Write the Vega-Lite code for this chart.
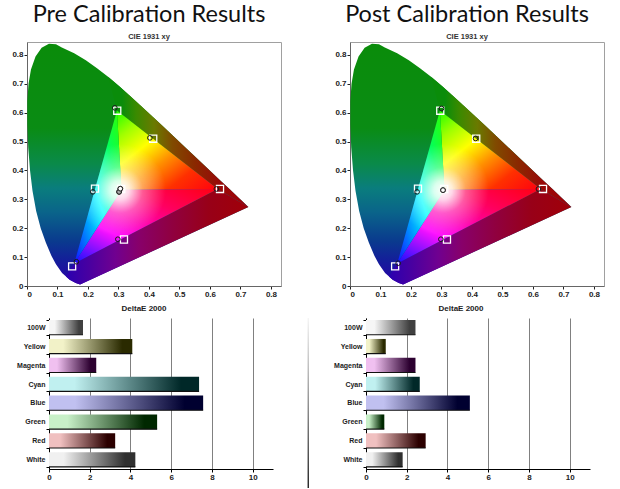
{
  "$schema": "https://vega.github.io/schema/vega-lite/v6.json",
  "background": "white",
  "padding": {"left": 11, "top": 2, "right": 5, "bottom": 0},
  "spacing": 6,
  "config": {
    "font": "Liberation Sans",
    "view": {"stroke": "#a0a0a0", "strokeWidth": 1},
    "axis": {"labelFont": "Liberation Sans", "labelFontSize": 8, "labelFontWeight": "bold", "labelColor": "#222222", "tickColor": "#222222", "tickSize": 3, "labelPadding": 1, "domainColor": "#666666"}
  },
  "datasets": {
    "shapes": [
      {"s": "locus", "i": 1, "x": 0.1741, "y": 0.005},
      {"s": "locus", "i": 2, "x": 0.16, "y": 0.01},
      {"s": "locus", "i": 3, "x": 0.14, "y": 0.022},
      {"s": "locus", "i": 4, "x": 0.115, "y": 0.045},
      {"s": "locus", "i": 5, "x": 0.095, "y": 0.075},
      {"s": "locus", "i": 6, "x": 0.08, "y": 0.105},
      {"s": "locus", "i": 7, "x": 0.062, "y": 0.15},
      {"s": "locus", "i": 8, "x": 0.045, "y": 0.2},
      {"s": "locus", "i": 9, "x": 0.03, "y": 0.26},
      {"s": "locus", "i": 10, "x": 0.018, "y": 0.33},
      {"s": "locus", "i": 11, "x": 0.01, "y": 0.4},
      {"s": "locus", "i": 12, "x": 0.004, "y": 0.48},
      {"s": "locus", "i": 13, "x": 0.001, "y": 0.56},
      {"s": "locus", "i": 14, "x": 0.001, "y": 0.64},
      {"s": "locus", "i": 15, "x": 0.005, "y": 0.7},
      {"s": "locus", "i": 16, "x": 0.013, "y": 0.75},
      {"s": "locus", "i": 17, "x": 0.028, "y": 0.795},
      {"s": "locus", "i": 18, "x": 0.048, "y": 0.825},
      {"s": "locus", "i": 19, "x": 0.072, "y": 0.839},
      {"s": "locus", "i": 20, "x": 0.095, "y": 0.837},
      {"s": "locus", "i": 21, "x": 0.1142, "y": 0.8262},
      {"s": "locus", "i": 22, "x": 0.1547, "y": 0.8059},
      {"s": "locus", "i": 23, "x": 0.1929, "y": 0.7816},
      {"s": "locus", "i": 24, "x": 0.2296, "y": 0.7543},
      {"s": "locus", "i": 25, "x": 0.2658, "y": 0.7243},
      {"s": "locus", "i": 26, "x": 0.3016, "y": 0.6923},
      {"s": "locus", "i": 27, "x": 0.3373, "y": 0.6589},
      {"s": "locus", "i": 28, "x": 0.3731, "y": 0.6245},
      {"s": "locus", "i": 29, "x": 0.4087, "y": 0.5896},
      {"s": "locus", "i": 30, "x": 0.4441, "y": 0.5547},
      {"s": "locus", "i": 31, "x": 0.4788, "y": 0.5202},
      {"s": "locus", "i": 32, "x": 0.5125, "y": 0.4866},
      {"s": "locus", "i": 33, "x": 0.5448, "y": 0.4544},
      {"s": "locus", "i": 34, "x": 0.5752, "y": 0.4242},
      {"s": "locus", "i": 35, "x": 0.6029, "y": 0.3965},
      {"s": "locus", "i": 36, "x": 0.627, "y": 0.3725},
      {"s": "locus", "i": 37, "x": 0.6658, "y": 0.334},
      {"s": "locus", "i": 38, "x": 0.6915, "y": 0.3083},
      {"s": "locus", "i": 39, "x": 0.7079, "y": 0.292},
      {"s": "locus", "i": 40, "x": 0.719, "y": 0.2809},
      {"s": "locus", "i": 41, "x": 0.726, "y": 0.274},
      {"s": "right", "i": 1, "x": 0.295, "y": 0.608},
      {"s": "right", "i": 2, "x": 0.2658, "y": 0.7243},
      {"s": "right", "i": 3, "x": 0.3016, "y": 0.6923},
      {"s": "right", "i": 4, "x": 0.3373, "y": 0.6589},
      {"s": "right", "i": 5, "x": 0.3731, "y": 0.6245},
      {"s": "right", "i": 6, "x": 0.4087, "y": 0.5896},
      {"s": "right", "i": 7, "x": 0.4441, "y": 0.5547},
      {"s": "right", "i": 8, "x": 0.4788, "y": 0.5202},
      {"s": "right", "i": 9, "x": 0.5125, "y": 0.4866},
      {"s": "right", "i": 10, "x": 0.5448, "y": 0.4544},
      {"s": "right", "i": 11, "x": 0.5752, "y": 0.4242},
      {"s": "right", "i": 12, "x": 0.6029, "y": 0.3965},
      {"s": "right", "i": 13, "x": 0.627, "y": 0.3725},
      {"s": "right", "i": 14, "x": 0.6658, "y": 0.334},
      {"s": "right", "i": 15, "x": 0.6915, "y": 0.3083},
      {"s": "right", "i": 16, "x": 0.7079, "y": 0.292},
      {"s": "right", "i": 17, "x": 0.719, "y": 0.2809},
      {"s": "right", "i": 18, "x": 0.726, "y": 0.274},
      {"s": "right", "i": 19, "x": 0.625, "y": 0.336},
      {"s": "bottom", "i": 1, "x": 0.155, "y": 0.078},
      {"s": "bottom", "i": 2, "x": 0.128, "y": 0.033},
      {"s": "bottom", "i": 3, "x": 0.14, "y": 0.022},
      {"s": "bottom", "i": 4, "x": 0.16, "y": 0.01},
      {"s": "bottom", "i": 5, "x": 0.1741, "y": 0.005},
      {"s": "bottom", "i": 6, "x": 0.726, "y": 0.274},
      {"s": "bottom", "i": 7, "x": 0.625, "y": 0.336},
      {"s": "tGR", "i": 1, "x": 0.31, "y": 0.333},
      {"s": "tGR", "i": 2, "x": 0.295, "y": 0.608},
      {"s": "tGR", "i": 3, "x": 0.625, "y": 0.336},
      {"s": "tRB", "i": 1, "x": 0.31, "y": 0.333},
      {"s": "tRB", "i": 2, "x": 0.625, "y": 0.336},
      {"s": "tRB", "i": 3, "x": 0.155, "y": 0.078},
      {"s": "tBG", "i": 1, "x": 0.31, "y": 0.333},
      {"s": "tBG", "i": 2, "x": 0.155, "y": 0.078},
      {"s": "tBG", "i": 3, "x": 0.295, "y": 0.608},
      {"s": "tri", "i": 1, "x": 0.295, "y": 0.608},
      {"s": "tri", "i": 2, "x": 0.625, "y": 0.336},
      {"s": "tri", "i": 3, "x": 0.155, "y": 0.078}
    ],
    "targets": [
      {"n": "Green", "x": 0.296, "y": 0.607},
      {"n": "Yellow", "x": 0.414, "y": 0.51},
      {"n": "Red", "x": 0.633, "y": 0.336},
      {"n": "Cyan", "x": 0.223, "y": 0.337},
      {"n": "White", "x": 0.309, "y": 0.336},
      {"n": "Magenta", "x": 0.318, "y": 0.161},
      {"n": "Blue", "x": 0.148, "y": 0.068}
    ],
    "prePts": [
      {"n": "Green", "x": 0.288, "y": 0.617},
      {"n": "Yellow", "x": 0.403, "y": 0.513},
      {"n": "Red", "x": 0.621, "y": 0.336},
      {"n": "Cyan", "x": 0.216, "y": 0.326},
      {"n": "White2", "x": 0.302, "y": 0.326},
      {"n": "White", "x": 0.306, "y": 0.337},
      {"n": "Magenta", "x": 0.298, "y": 0.162},
      {"n": "Blue", "x": 0.162, "y": 0.084}
    ],
    "postPts": [
      {"n": "Green", "x": 0.3, "y": 0.615},
      {"n": "Yellow", "x": 0.412, "y": 0.511},
      {"n": "Red", "x": 0.618, "y": 0.336},
      {"n": "Cyan", "x": 0.22, "y": 0.326},
      {"n": "White", "x": 0.305, "y": 0.332},
      {"n": "Magenta", "x": 0.298, "y": 0.162},
      {"n": "Blue", "x": 0.158, "y": 0.079}
    ],
    "preBars": [
      {"cat": "100W", "v": 1.67},
      {"cat": "Yellow", "v": 4.09},
      {"cat": "Magenta", "v": 2.32},
      {"cat": "Cyan", "v": 7.37},
      {"cat": "Blue", "v": 7.57},
      {"cat": "Green", "v": 5.31},
      {"cat": "Red", "v": 3.25},
      {"cat": "White", "v": 4.24}
    ],
    "postBars": [
      {"cat": "100W", "v": 2.43},
      {"cat": "Yellow", "v": 0.97},
      {"cat": "Magenta", "v": 2.43},
      {"cat": "Cyan", "v": 2.64},
      {"cat": "Blue", "v": 5.1},
      {"cat": "Green", "v": 0.9},
      {"cat": "Red", "v": 2.93},
      {"cat": "White", "v": 1.8}
    ]
  },
  "vconcat": [
    {
      "spacing": 52,
      "hconcat": [
        {
          "width": 254, "height": 244,
          "title": {"text": "Pre Calibration Results", "subtitle": "CIE 1931 xy", "font": "Lato", "fontSize": 23.5, "fontWeight": "normal", "color": "#111111", "subtitleFont": "Liberation Sans", "subtitleFontSize": 7.5, "subtitleFontWeight": "bold", "subtitleColor": "#333333", "subtitlePadding": 6, "offset": 2, "anchor": "middle", "frame": "group", "dx": -5},
          "encoding": {
            "x": {"field": "x", "type": "quantitative", "scale": {"domain": [0, 0.833], "nice": false, "zero": false}, "axis": {"values": [0, 0.1, 0.2, 0.3, 0.4, 0.5, 0.6, 0.7, 0.8], "format": "~g", "title": null, "grid": false}},
            "y": {"field": "y", "type": "quantitative", "scale": {"domain": [0, 0.845], "nice": false, "zero": false}, "axis": {"values": [0, 0.1, 0.2, 0.3, 0.4, 0.5, 0.6, 0.7, 0.8], "format": "~g", "title": null, "grid": false}}
          },
          "layer": [
            {"data": {"name": "shapes"}, "transform": [{"filter": "datum.s == 'locus'"}], "mark": {"type": "line", "interpolate": "linear-closed", "strokeWidth": 0, "fill": {"gradient": "linear", "x1": 0, "y1": 0, "x2": 0, "y2": 1, "stops": [{"offset": 0, "color": "#0a8c0a"}, {"offset": 0.35, "color": "#0a8c14"}, {"offset": 0.5, "color": "#0a8a4a"}, {"offset": 0.6, "color": "#0a7d7d"}, {"offset": 0.7, "color": "#0a648a"}, {"offset": 0.82, "color": "#0a3a8e"}, {"offset": 0.9, "color": "#141e9a"}, {"offset": 1, "color": "#2a00a8"}]}}, "encoding": {"order": {"field": "i", "type": "quantitative"}}},
            {"data": {"name": "shapes"}, "transform": [{"filter": "datum.s == 'right'"}], "mark": {"type": "line", "interpolate": "linear-closed", "strokeWidth": 0, "fill": {"gradient": "linear", "x1": 0, "y1": 0, "x2": 1, "y2": 0, "stops": [{"offset": 0, "color": "#0a8c0a"}, {"offset": 0.1, "color": "#0a8c0a"}, {"offset": 0.2, "color": "#3a8a00"}, {"offset": 0.33, "color": "#6a7a00"}, {"offset": 0.46, "color": "#804a00"}, {"offset": 0.62, "color": "#8a2800"}, {"offset": 0.79, "color": "#980a08"}, {"offset": 1, "color": "#a00008"}]}}, "encoding": {"order": {"field": "i", "type": "quantitative"}}},
            {"data": {"name": "shapes"}, "transform": [{"filter": "datum.s == 'bottom'"}], "mark": {"type": "line", "interpolate": "linear-closed", "strokeWidth": 0, "fill": {"gradient": "linear", "x1": 0, "y1": 0, "x2": 1, "y2": 0, "stops": [{"offset": 0, "color": "#2a00b0"}, {"offset": 0.13, "color": "#4a00a0"}, {"offset": 0.27, "color": "#700090"}, {"offset": 0.4, "color": "#88006a"}, {"offset": 0.58, "color": "#900040"}, {"offset": 0.78, "color": "#980018"}, {"offset": 1, "color": "#a00008"}]}}, "encoding": {"order": {"field": "i", "type": "quantitative"}}},
            {"data": {"name": "shapes"}, "transform": [{"filter": "datum.s == 'tGR'"}], "mark": {"type": "line", "interpolate": "linear-closed", "strokeWidth": 0, "fill": {"gradient": "linear", "x1": 0, "y1": 0, "x2": 1, "y2": 1, "stops": [{"offset": 0, "color": "#20ff00"}, {"offset": 0.18, "color": "#a0ff00"}, {"offset": 0.36, "color": "#ffff00"}, {"offset": 0.55, "color": "#ff9000"}, {"offset": 0.75, "color": "#ff3000"}, {"offset": 1, "color": "#ff0010"}]}}, "encoding": {"order": {"field": "i", "type": "quantitative"}}},
            {"data": {"name": "shapes"}, "transform": [{"filter": "datum.s == 'tRB'"}], "mark": {"type": "line", "interpolate": "linear-closed", "strokeWidth": 0, "fill": {"gradient": "linear", "x1": 1, "y1": 0, "x2": 0, "y2": 1, "stops": [{"offset": 0, "color": "#ff0010"}, {"offset": 0.3, "color": "#ff0060"}, {"offset": 0.5, "color": "#ff00b0"}, {"offset": 0.665, "color": "#ff10ff"}, {"offset": 0.82, "color": "#9010ff"}, {"offset": 1, "color": "#1010ff"}]}}, "encoding": {"order": {"field": "i", "type": "quantitative"}}},
            {"data": {"name": "shapes"}, "transform": [{"filter": "datum.s == 'tBG'"}], "mark": {"type": "line", "interpolate": "linear-closed", "strokeWidth": 0, "fill": {"gradient": "linear", "x1": 0.935, "y1": 0, "x2": 0, "y2": 1, "stops": [{"offset": 0, "color": "#30ff00"}, {"offset": 0.25, "color": "#00ff60"}, {"offset": 0.52, "color": "#00ffff"}, {"offset": 0.75, "color": "#0090ff"}, {"offset": 1, "color": "#1010ff"}]}}, "encoding": {"order": {"field": "i", "type": "quantitative"}}},
            {"data": {"name": "shapes"}, "transform": [{"filter": "datum.s == 'tri'"}], "mark": {"type": "line", "interpolate": "linear-closed", "strokeWidth": 0, "fill": {"gradient": "radial", "x1": 0.33, "y1": 0.52, "r1": 0, "x2": 0.33, "y2": 0.52, "r2": 0.3, "stops": [{"offset": 0, "color": "rgba(255,255,255,1)"}, {"offset": 0.2, "color": "rgba(255,255,255,0.85)"}, {"offset": 0.5, "color": "rgba(255,255,255,0.35)"}, {"offset": 1, "color": "rgba(255,255,255,0)"}]}}, "encoding": {"order": {"field": "i", "type": "quantitative"}}},
            {"data": {"name": "targets"}, "mark": {"type": "point", "shape": "square", "size": 50, "filled": false, "stroke": "#ffffff", "strokeWidth": 1.3, "opacity": 1}},
            {"data": {"name": "prePts"}, "mark": {"type": "point", "shape": "circle", "size": 22, "filled": false, "stroke": "#1a1a1a", "strokeWidth": 1, "opacity": 1}},
            {"data": {"name": "prePts"}, "transform": [{"filter": "indexof(datum.n, 'White') == 0"}], "mark": {"type": "point", "shape": "circle", "size": 22, "filled": true, "stroke": "#1a1a1a", "strokeWidth": 1, "opacity": 1}, "encoding": {"fill": {"condition": {"test": "datum.n == 'White'", "value": "#ffffff"}, "value": "#aaaaaa"}}}
          ]
        },
        {
          "width": 254, "height": 244,
          "title": {"text": "Post Calibration Results", "subtitle": "CIE 1931 xy", "font": "Lato", "fontSize": 23.5, "fontWeight": "normal", "color": "#111111", "subtitleFont": "Liberation Sans", "subtitleFontSize": 7.5, "subtitleFontWeight": "bold", "subtitleColor": "#333333", "subtitlePadding": 6, "offset": 2, "anchor": "middle", "frame": "group", "dx": -10},
          "encoding": {
            "x": {"field": "x", "type": "quantitative", "scale": {"domain": [0, 0.833], "nice": false, "zero": false}, "axis": {"values": [0, 0.1, 0.2, 0.3, 0.4, 0.5, 0.6, 0.7, 0.8], "format": "~g", "title": null, "grid": false}},
            "y": {"field": "y", "type": "quantitative", "scale": {"domain": [0, 0.845], "nice": false, "zero": false}, "axis": {"values": [0, 0.1, 0.2, 0.3, 0.4, 0.5, 0.6, 0.7, 0.8], "format": "~g", "title": null, "grid": false}}
          },
          "layer": [
            {"data": {"name": "shapes"}, "transform": [{"filter": "datum.s == 'locus'"}], "mark": {"type": "line", "interpolate": "linear-closed", "strokeWidth": 0, "fill": {"gradient": "linear", "x1": 0, "y1": 0, "x2": 0, "y2": 1, "stops": [{"offset": 0, "color": "#0a8c0a"}, {"offset": 0.35, "color": "#0a8c14"}, {"offset": 0.5, "color": "#0a8a4a"}, {"offset": 0.6, "color": "#0a7d7d"}, {"offset": 0.7, "color": "#0a648a"}, {"offset": 0.82, "color": "#0a3a8e"}, {"offset": 0.9, "color": "#141e9a"}, {"offset": 1, "color": "#2a00a8"}]}}, "encoding": {"order": {"field": "i", "type": "quantitative"}}},
            {"data": {"name": "shapes"}, "transform": [{"filter": "datum.s == 'right'"}], "mark": {"type": "line", "interpolate": "linear-closed", "strokeWidth": 0, "fill": {"gradient": "linear", "x1": 0, "y1": 0, "x2": 1, "y2": 0, "stops": [{"offset": 0, "color": "#0a8c0a"}, {"offset": 0.1, "color": "#0a8c0a"}, {"offset": 0.2, "color": "#3a8a00"}, {"offset": 0.33, "color": "#6a7a00"}, {"offset": 0.46, "color": "#804a00"}, {"offset": 0.62, "color": "#8a2800"}, {"offset": 0.79, "color": "#980a08"}, {"offset": 1, "color": "#a00008"}]}}, "encoding": {"order": {"field": "i", "type": "quantitative"}}},
            {"data": {"name": "shapes"}, "transform": [{"filter": "datum.s == 'bottom'"}], "mark": {"type": "line", "interpolate": "linear-closed", "strokeWidth": 0, "fill": {"gradient": "linear", "x1": 0, "y1": 0, "x2": 1, "y2": 0, "stops": [{"offset": 0, "color": "#2a00b0"}, {"offset": 0.13, "color": "#4a00a0"}, {"offset": 0.27, "color": "#700090"}, {"offset": 0.4, "color": "#88006a"}, {"offset": 0.58, "color": "#900040"}, {"offset": 0.78, "color": "#980018"}, {"offset": 1, "color": "#a00008"}]}}, "encoding": {"order": {"field": "i", "type": "quantitative"}}},
            {"data": {"name": "shapes"}, "transform": [{"filter": "datum.s == 'tGR'"}], "mark": {"type": "line", "interpolate": "linear-closed", "strokeWidth": 0, "fill": {"gradient": "linear", "x1": 0, "y1": 0, "x2": 1, "y2": 1, "stops": [{"offset": 0, "color": "#20ff00"}, {"offset": 0.18, "color": "#a0ff00"}, {"offset": 0.36, "color": "#ffff00"}, {"offset": 0.55, "color": "#ff9000"}, {"offset": 0.75, "color": "#ff3000"}, {"offset": 1, "color": "#ff0010"}]}}, "encoding": {"order": {"field": "i", "type": "quantitative"}}},
            {"data": {"name": "shapes"}, "transform": [{"filter": "datum.s == 'tRB'"}], "mark": {"type": "line", "interpolate": "linear-closed", "strokeWidth": 0, "fill": {"gradient": "linear", "x1": 1, "y1": 0, "x2": 0, "y2": 1, "stops": [{"offset": 0, "color": "#ff0010"}, {"offset": 0.3, "color": "#ff0060"}, {"offset": 0.5, "color": "#ff00b0"}, {"offset": 0.665, "color": "#ff10ff"}, {"offset": 0.82, "color": "#9010ff"}, {"offset": 1, "color": "#1010ff"}]}}, "encoding": {"order": {"field": "i", "type": "quantitative"}}},
            {"data": {"name": "shapes"}, "transform": [{"filter": "datum.s == 'tBG'"}], "mark": {"type": "line", "interpolate": "linear-closed", "strokeWidth": 0, "fill": {"gradient": "linear", "x1": 0.935, "y1": 0, "x2": 0, "y2": 1, "stops": [{"offset": 0, "color": "#30ff00"}, {"offset": 0.25, "color": "#00ff60"}, {"offset": 0.52, "color": "#00ffff"}, {"offset": 0.75, "color": "#0090ff"}, {"offset": 1, "color": "#1010ff"}]}}, "encoding": {"order": {"field": "i", "type": "quantitative"}}},
            {"data": {"name": "shapes"}, "transform": [{"filter": "datum.s == 'tri'"}], "mark": {"type": "line", "interpolate": "linear-closed", "strokeWidth": 0, "fill": {"gradient": "radial", "x1": 0.33, "y1": 0.52, "r1": 0, "x2": 0.33, "y2": 0.52, "r2": 0.3, "stops": [{"offset": 0, "color": "rgba(255,255,255,1)"}, {"offset": 0.2, "color": "rgba(255,255,255,0.85)"}, {"offset": 0.5, "color": "rgba(255,255,255,0.35)"}, {"offset": 1, "color": "rgba(255,255,255,0)"}]}}, "encoding": {"order": {"field": "i", "type": "quantitative"}}},
            {"data": {"name": "targets"}, "mark": {"type": "point", "shape": "square", "size": 50, "filled": false, "stroke": "#ffffff", "strokeWidth": 1.3, "opacity": 1}},
            {"data": {"name": "postPts"}, "mark": {"type": "point", "shape": "circle", "size": 22, "filled": false, "stroke": "#1a1a1a", "strokeWidth": 1, "opacity": 1}},
            {"data": {"name": "postPts"}, "transform": [{"filter": "indexof(datum.n, 'White') == 0"}], "mark": {"type": "point", "shape": "circle", "size": 22, "filled": true, "stroke": "#1a1a1a", "strokeWidth": 1, "opacity": 1}, "encoding": {"fill": {"condition": {"test": "datum.n == 'White'", "value": "#ffffff"}, "value": "#aaaaaa"}}}
          ]
        }
      ]
    },
    {
      "spacing": 24,
      "hconcat": [
        {
          "width": 246, "height": 151,
          "view": {"stroke": null},
          "title": {"text": "DeltaE 2000", "font": "Liberation Sans", "fontSize": 8, "fontWeight": "bold", "color": "#222222", "offset": 1, "anchor": "middle", "frame": "group", "dx": -6},
          "layer": [
            {
              "data": {"name": "preBars"},
              "encoding": {
                "y": {"field": "cat", "type": "nominal", "sort": null, "scale": {"paddingInner": 0.22, "paddingOuter": 0.11}, "axis": {"title": null, "tickBand": "extent", "domainColor": "#000000", "tickColor": "#000000", "labelFontSize": 7, "offset": -22}},
                "x": {"field": "v", "type": "quantitative", "scale": {"domain": [-1.08, 11], "nice": false}, "axis": {"values": [0, 2, 4, 6, 8, 10], "title": null, "grid": true, "gridColor": "#808080", "domainColor": "#000000", "tickColor": "#000000", "domainDash": [0, 22, 400]}}
              },
              "layer": [
                {"data": {"values": [{}]}, "mark": {"type": "rect", "fill": "#ffffff", "fillOpacity": 0, "stroke": "#a0a0a0", "strokeWidth": 1}, "encoding": {"x": {"datum": 0, "type": "quantitative"}, "x2": {"datum": 11, "type": "quantitative"}, "y": null}},
                {"mark": {"type": "bar"}, "encoding": {
                  "fill": {"condition": [
                    {"test": "datum.cat == '100W'", "value": {"gradient": "linear", "x1": 0, "y1": 0, "x2": 1, "y2": 0, "stops": [{"offset": 0, "color": "#f6f6f6"}, {"offset": 0.17, "color": "#f6f6f6"}, {"offset": 0.88, "color": "#404040"}, {"offset": 1, "color": "#404040"}]}},
                    {"test": "datum.cat == 'Yellow'", "value": {"gradient": "linear", "x1": 0, "y1": 0, "x2": 1, "y2": 0, "stops": [{"offset": 0, "color": "#f2f2c8"}, {"offset": 0.17, "color": "#f2f2c8"}, {"offset": 0.88, "color": "#2a2a00"}, {"offset": 1, "color": "#2a2a00"}]}},
                    {"test": "datum.cat == 'Magenta'", "value": {"gradient": "linear", "x1": 0, "y1": 0, "x2": 1, "y2": 0, "stops": [{"offset": 0, "color": "#f0c0f0"}, {"offset": 0.17, "color": "#f0c0f0"}, {"offset": 0.88, "color": "#2c0030"}, {"offset": 1, "color": "#2c0030"}]}},
                    {"test": "datum.cat == 'Cyan'", "value": {"gradient": "linear", "x1": 0, "y1": 0, "x2": 1, "y2": 0, "stops": [{"offset": 0, "color": "#c0f0f0"}, {"offset": 0.17, "color": "#c0f0f0"}, {"offset": 0.88, "color": "#002828"}, {"offset": 1, "color": "#002828"}]}},
                    {"test": "datum.cat == 'Blue'", "value": {"gradient": "linear", "x1": 0, "y1": 0, "x2": 1, "y2": 0, "stops": [{"offset": 0, "color": "#c0c0f0"}, {"offset": 0.17, "color": "#c0c0f0"}, {"offset": 0.88, "color": "#000030"}, {"offset": 1, "color": "#000030"}]}},
                    {"test": "datum.cat == 'Green'", "value": {"gradient": "linear", "x1": 0, "y1": 0, "x2": 1, "y2": 0, "stops": [{"offset": 0, "color": "#c8f0c8"}, {"offset": 0.17, "color": "#c8f0c8"}, {"offset": 0.88, "color": "#002800"}, {"offset": 1, "color": "#002800"}]}},
                    {"test": "datum.cat == 'Red'", "value": {"gradient": "linear", "x1": 0, "y1": 0, "x2": 1, "y2": 0, "stops": [{"offset": 0, "color": "#f0c0c0"}, {"offset": 0.17, "color": "#f0c0c0"}, {"offset": 0.88, "color": "#2c0000"}, {"offset": 1, "color": "#2c0000"}]}}
                  ], "value": {"gradient": "linear", "x1": 0, "y1": 0, "x2": 1, "y2": 0, "stops": [{"offset": 0, "color": "#f0f0f0"}, {"offset": 0.17, "color": "#f0f0f0"}, {"offset": 0.88, "color": "#303030"}, {"offset": 1, "color": "#303030"}]}}
                }},
                {"mark": {"type": "bar", "height": 1.2, "yOffset": 7.3, "color": "#111111"}},
                {"data": {"values": [{}]}, "mark": {"type": "rule", "color": "#1f8a1f", "strokeWidth": 1}, "encoding": {"x": {"datum": 1, "type": "quantitative"}, "y": null}},
                {"data": {"values": [{}]}, "mark": {"type": "rule", "color": "#f2ee20", "strokeWidth": 1.5}, "encoding": {"x": {"datum": 3, "type": "quantitative"}, "y": null}},
                {"data": {"values": [{}]}, "mark": {"type": "rule", "color": "#b03030", "strokeWidth": 1.2}, "encoding": {"x": {"datum": 10, "type": "quantitative"}, "y": null}}
              ]
            },
            {"data": {"values": [{}]}, "mark": {"type": "rect", "clip": false, "fill": {"gradient": "linear", "x1": 0, "y1": 0, "x2": 0, "y2": 1, "stops": [{"offset": 0, "color": "#f4f4f4"}, {"offset": 0.3, "color": "#b0b0b0"}, {"offset": 1, "color": "#000000"}]}}, "encoding": {
              "x": {"datum": 12.7, "type": "quantitative", "scale": {"domain": [-1.08, 11], "nice": false}},
              "x2": {"datum": 12.76, "type": "quantitative"},
              "y": {"datum": -0.126, "type": "quantitative", "scale": {"domain": [0, 1], "nice": false}, "axis": null},
              "y2": {"datum": 1.0, "type": "quantitative"}
            }}
          ],
          "resolve": {"scale": {"y": "independent"}, "axis": {"y": "independent"}}
        },
        {
          "width": 246, "height": 151,
          "view": {"stroke": null},
          "title": {"text": "DeltaE 2000", "font": "Liberation Sans", "fontSize": 8, "fontWeight": "bold", "color": "#222222", "offset": 1, "anchor": "middle", "frame": "group", "dx": -6},
          "data": {"name": "postBars"},
          "encoding": {
            "y": {"field": "cat", "type": "nominal", "sort": null, "scale": {"paddingInner": 0.22, "paddingOuter": 0.11}, "axis": {"title": null, "tickBand": "extent", "domainColor": "#000000", "tickColor": "#000000", "labelFontSize": 7, "offset": -22}},
            "x": {"field": "v", "type": "quantitative", "scale": {"domain": [-1.08, 11], "nice": false}, "axis": {"values": [0, 2, 4, 6, 8, 10], "title": null, "grid": true, "gridColor": "#808080", "domainColor": "#000000", "tickColor": "#000000", "domainDash": [0, 22, 400]}}
          },
          "layer": [
            {"data": {"values": [{}]}, "mark": {"type": "rect", "fill": "#ffffff", "fillOpacity": 0, "stroke": "#a0a0a0", "strokeWidth": 1}, "encoding": {"x": {"datum": 0, "type": "quantitative"}, "x2": {"datum": 11, "type": "quantitative"}, "y": null}},
            {"mark": {"type": "bar"}, "encoding": {
              "fill": {"condition": [
                {"test": "datum.cat == '100W'", "value": {"gradient": "linear", "x1": 0, "y1": 0, "x2": 1, "y2": 0, "stops": [{"offset": 0, "color": "#f6f6f6"}, {"offset": 0.17, "color": "#f6f6f6"}, {"offset": 0.88, "color": "#404040"}, {"offset": 1, "color": "#404040"}]}},
                {"test": "datum.cat == 'Yellow'", "value": {"gradient": "linear", "x1": 0, "y1": 0, "x2": 1, "y2": 0, "stops": [{"offset": 0, "color": "#f2f2c8"}, {"offset": 0.17, "color": "#f2f2c8"}, {"offset": 0.88, "color": "#2a2a00"}, {"offset": 1, "color": "#2a2a00"}]}},
                {"test": "datum.cat == 'Magenta'", "value": {"gradient": "linear", "x1": 0, "y1": 0, "x2": 1, "y2": 0, "stops": [{"offset": 0, "color": "#f0c0f0"}, {"offset": 0.17, "color": "#f0c0f0"}, {"offset": 0.88, "color": "#2c0030"}, {"offset": 1, "color": "#2c0030"}]}},
                {"test": "datum.cat == 'Cyan'", "value": {"gradient": "linear", "x1": 0, "y1": 0, "x2": 1, "y2": 0, "stops": [{"offset": 0, "color": "#c0f0f0"}, {"offset": 0.17, "color": "#c0f0f0"}, {"offset": 0.88, "color": "#002828"}, {"offset": 1, "color": "#002828"}]}},
                {"test": "datum.cat == 'Blue'", "value": {"gradient": "linear", "x1": 0, "y1": 0, "x2": 1, "y2": 0, "stops": [{"offset": 0, "color": "#c0c0f0"}, {"offset": 0.17, "color": "#c0c0f0"}, {"offset": 0.88, "color": "#000030"}, {"offset": 1, "color": "#000030"}]}},
                {"test": "datum.cat == 'Green'", "value": {"gradient": "linear", "x1": 0, "y1": 0, "x2": 1, "y2": 0, "stops": [{"offset": 0, "color": "#c8f0c8"}, {"offset": 0.17, "color": "#c8f0c8"}, {"offset": 0.88, "color": "#002800"}, {"offset": 1, "color": "#002800"}]}},
                {"test": "datum.cat == 'Red'", "value": {"gradient": "linear", "x1": 0, "y1": 0, "x2": 1, "y2": 0, "stops": [{"offset": 0, "color": "#f0c0c0"}, {"offset": 0.17, "color": "#f0c0c0"}, {"offset": 0.88, "color": "#2c0000"}, {"offset": 1, "color": "#2c0000"}]}}
              ], "value": {"gradient": "linear", "x1": 0, "y1": 0, "x2": 1, "y2": 0, "stops": [{"offset": 0, "color": "#f0f0f0"}, {"offset": 0.17, "color": "#f0f0f0"}, {"offset": 0.88, "color": "#303030"}, {"offset": 1, "color": "#303030"}]}}
            }},
            {"mark": {"type": "bar", "height": 1.2, "yOffset": 7.3, "color": "#111111"}},
            {"data": {"values": [{}]}, "mark": {"type": "rule", "color": "#1f8a1f", "strokeWidth": 1}, "encoding": {"x": {"datum": 1, "type": "quantitative"}, "y": null}},
            {"data": {"values": [{}]}, "mark": {"type": "rule", "color": "#f2ee20", "strokeWidth": 1.5}, "encoding": {"x": {"datum": 3, "type": "quantitative"}, "y": null}},
            {"data": {"values": [{}]}, "mark": {"type": "rule", "color": "#c04438", "strokeWidth": 2.2}, "encoding": {"x": {"datum": 10, "type": "quantitative"}, "y": null}}
          ]
        }
      ]
    }
  ]
}
